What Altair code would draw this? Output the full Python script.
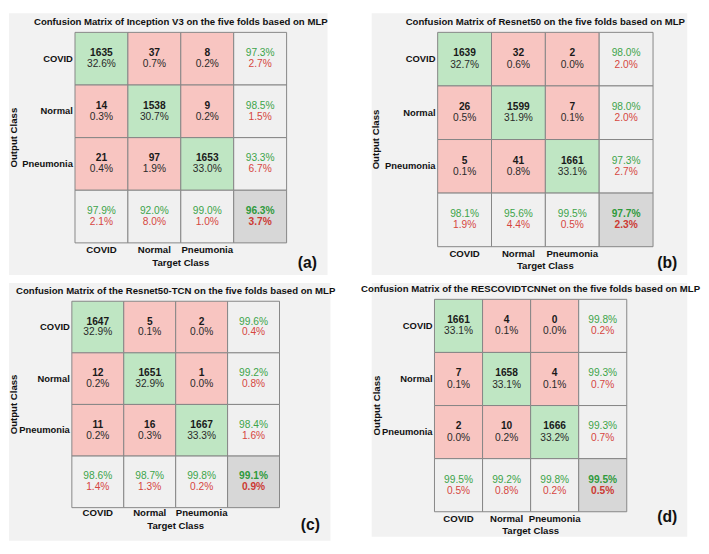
import altair as alt
import pandas as pd

classes = ["COVID", "Normal", "Pneumonia"]

titles = [
    "Confusion Matrix of Inception V3 on the five folds based on MLP",
    "Confusion Matrix of Resnet50 on the five folds based on MLP",
    "Confusion Matrix of the Resnet50-TCN on the five folds based on MLP",
    "Confusion Matrix of the RESCOVIDTCNNet on the five folds based on MLP",
]
letters = ["(a)", "(b)", "(c)", "(d)"]

counts_a = [[1635, 37, 8], [14, 1538, 9], [21, 97, 1653]]
pct_a = [[32.6, 0.7, 0.2], [0.3, 30.7, 0.2], [0.4, 1.9, 33.0]]
row_acc_a = [97.3, 98.5, 93.3]
row_err_a = [2.7, 1.5, 6.7]
col_acc_a = [97.9, 92.0, 99.0]
col_err_a = [2.1, 8.0, 1.0]
total_a = [96.3, 3.7]

counts_b = [[1639, 32, 2], [26, 1599, 7], [5, 41, 1661]]
pct_b = [[32.7, 0.6, 0.0], [0.5, 31.9, 0.1], [0.1, 0.8, 33.1]]
row_acc_b = [98.0, 98.0, 97.3]
row_err_b = [2.0, 2.0, 2.7]
col_acc_b = [98.1, 95.6, 99.5]
col_err_b = [1.9, 4.4, 0.5]
total_b = [97.7, 2.3]

counts_c = [[1647, 5, 2], [12, 1651, 1], [11, 16, 1667]]
pct_c = [[32.9, 0.1, 0.0], [0.2, 32.9, 0.0], [0.2, 0.3, 33.3]]
row_acc_c = [99.6, 99.2, 98.4]
row_err_c = [0.4, 0.8, 1.6]
col_acc_c = [98.6, 98.7, 99.8]
col_err_c = [1.4, 1.3, 0.2]
total_c = [99.1, 0.9]

counts_d = [[1661, 4, 0], [7, 1658, 4], [2, 10, 1666]]
pct_d = [[33.1, 0.1, 0.0], [0.1, 33.1, 0.1], [0.0, 0.2, 33.2]]
row_acc_d = [99.8, 99.3, 99.3]
row_err_d = [0.2, 0.7, 0.7]
col_acc_d = [99.5, 99.2, 99.8]
col_err_d = [0.5, 0.8, 0.2]
total_d = [99.5, 0.5]

# layout (in cell units relative to the grid) -- styling only
layouts = [
    dict(w=325, h=267, xdom=[-1.248, 4.774], ydom=[-0.362, 4.611], lab_y=4.13, tc_y=4.374, oc_x=-1.155, let=(4.394, 4.376)),
    dict(w=322, h=267, xdom=[-1.226, 4.636], ydom=[-0.355, 4.529], lab_y=4.13, tc_y=4.368, oc_x=-1.14, let=(4.263, 4.311)),
    dict(w=328, h=263, xdom=[-1.211, 4.982], ydom=[-0.356, 4.640], lab_y=4.11, tc_y=4.358, oc_x=-1.117, let=(4.595, 4.345)),
    dict(w=322, h=259, xdom=[-1.307, 5.259], ydom=[-0.310, 4.471], lab_y=4.136, tc_y=4.369, oc_x=-1.20, let=(4.842, 4.10)),
]

FONT = "Liberation Sans"
GREEN_CELL = "#bfe6c3"
RED_CELL = "#f8c5c1"
GRAY_CELL = "#f0f0f0"
TOTAL_CELL = "#d7d7d7"
GREEN_TXT = "#3da44a"
RED_TXT = "#d6463f"


def panel(counts, pct, racc, rerr, cacc, cerr, total, title, letter, L):
    xs = alt.Scale(domain=L["xdom"], nice=False, zero=False)
    ys = alt.Scale(domain=L["ydom"], nice=False, zero=False, reverse=True)
    cells = []
    for r in range(4):
        for c in range(4):
            if r == 3 and c == 3:
                kind = "total"
            elif r == 3 or c == 3:
                kind = "summary"
            elif r == c:
                kind = "correct"
            else:
                kind = "wrong"
            cells.append(dict(x=c, x2=c + 1, y=r, y2=r + 1, kind=kind))
    cdf = pd.DataFrame(cells)
    rect = alt.Chart(cdf).mark_rect(stroke="#858585", strokeWidth=1).encode(
        x=alt.X("x:Q", scale=xs, axis=None),
        x2="x2:Q",
        y=alt.Y("y:Q", scale=ys, axis=None),
        y2="y2:Q",
        color=alt.Color("kind:N", scale=alt.Scale(
            domain=["correct", "wrong", "summary", "total"],
            range=[GREEN_CELL, RED_CELL, GRAY_CELL, TOTAL_CELL]), legend=None),
    )
    d = 0.105
    rows = {k: [] for k in ["count", "pct", "acc", "err", "tacc", "terr"]}
    for r in range(3):
        for c in range(3):
            rows["count"].append(dict(x=c + 0.5, y=r + 0.5 - d, t=str(counts[r][c])))
            rows["pct"].append(dict(x=c + 0.5, y=r + 0.5 + d, t=f"{pct[r][c]:.1f}%"))
        rows["acc"].append(dict(x=3.5, y=r + 0.5 - d, t=f"{racc[r]:.1f}%"))
        rows["err"].append(dict(x=3.5, y=r + 0.5 + d, t=f"{rerr[r]:.1f}%"))
        rows["acc"].append(dict(x=r + 0.5, y=3.5 - d, t=f"{cacc[r]:.1f}%"))
        rows["err"].append(dict(x=r + 0.5, y=3.5 + d, t=f"{cerr[r]:.1f}%"))
    rows["tacc"].append(dict(x=3.5, y=3.5 - d, t=f"{total[0]:.1f}%"))
    rows["terr"].append(dict(x=3.5, y=3.5 + d, t=f"{total[1]:.1f}%"))
    styles = {
        "count": dict(fontWeight="bold", color="#1a1a1a"),
        "pct": dict(fontWeight="normal", color="#2a2a2a"),
        "acc": dict(fontWeight="normal", color=GREEN_TXT),
        "err": dict(fontWeight="normal", color=RED_TXT),
        "tacc": dict(fontWeight="bold", color="#2f9a3c"),
        "terr": dict(fontWeight="bold", color="#cc3a33"),
    }

    def tl(df, **kw):
        base = dict(font=FONT, baseline="middle")
        base.update(kw)
        return alt.Chart(df).mark_text(**base).encode(
            x=alt.X("x:Q", scale=xs, axis=None),
            y=alt.Y("y:Q", scale=ys, axis=None),
            text="t:N",
        )

    layers = [rect]
    for k, v in rows.items():
        layers.append(tl(pd.DataFrame(v), fontSize=10.4, align="center", **styles[k]))
    rowlab = pd.DataFrame([dict(x=-0.04, y=i + 0.5, t=n) for i, n in enumerate(classes)])
    collab = pd.DataFrame([dict(x=i + 0.5, y=L["lab_y"], t=n) for i, n in enumerate(classes)])
    layers.append(tl(rowlab, fontSize=9.6, fontWeight="bold", align="right", color="#111"))
    layers.append(tl(collab, fontSize=9.8, fontWeight="bold", align="center", color="#111"))
    layers.append(tl(pd.DataFrame([dict(x=2, y=L["tc_y"], t="Target Class")]),
                     fontSize=9.8, fontWeight="bold", align="center", color="#111"))
    layers.append(tl(pd.DataFrame([dict(x=L["oc_x"], y=2, t="Output Class")]),
                     fontSize=9.8, fontWeight="bold", align="center", angle=270, color="#111"))
    layers.append(tl(pd.DataFrame([dict(x=2, y=-0.2, t=title)]),
                     fontSize=9.8, fontWeight="bold", align="center", color="#111"))
    layers.append(tl(pd.DataFrame([dict(x=L["let"][0], y=L["let"][1], t=letter)]),
                     fontSize=16, fontWeight="bold", align="center", color="#111"))
    return alt.layer(*layers).properties(width=L["w"], height=L["h"])


pa = panel(counts_a, pct_a, row_acc_a, row_err_a, col_acc_a, col_err_a, total_a, titles[0], letters[0], layouts[0])
pb = panel(counts_b, pct_b, row_acc_b, row_err_b, col_acc_b, col_err_b, total_b, titles[1], letters[1], layouts[1])
pc = panel(counts_c, pct_c, row_acc_c, row_err_c, col_acc_c, col_err_c, total_c, titles[2], letters[2], layouts[2])
pd_ = panel(counts_d, pct_d, row_acc_d, row_err_d, col_acc_d, col_err_d, total_d, titles[3], letters[3], layouts[3])

chart = alt.concat(pa, pb, pc, pd_, columns=2, spacing={"row": 8, "column": 42}, bounds="flush").properties(
    padding=0, background="white"
).configure_view(fill="#f2f2f2", strokeWidth=0)

chart.save("out.html", embed_options={"renderer": "svg", "actions": False})
